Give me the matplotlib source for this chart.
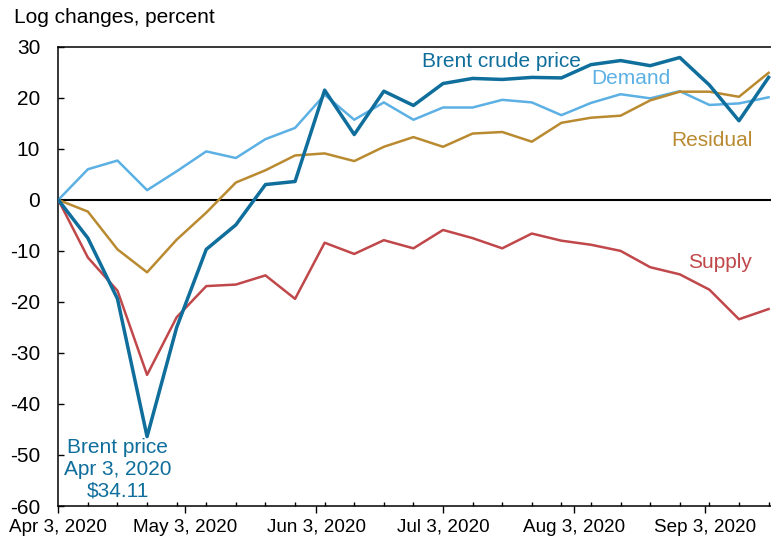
import pandas as pd
import matplotlib
matplotlib.use('Agg')
import matplotlib.pyplot as plt
import matplotlib.dates as mdates
from matplotlib.ticker import FuncFormatter, MultipleLocator

plt.rcParams['font.family'] = ['Liberation Sans', 'DejaVu Sans']
plt.rcParams['axes.unicode_minus'] = False

# Weekly observations, Apr 3 - Sep 18, 2020
dates = pd.date_range('2020-04-03', periods=25, freq='7D')

brent = [0, -7.5, -19.4, -46.4, -25.0, -9.7, -4.9, 3.0, 3.6, 21.5, 12.8, 21.3, 18.5,
         22.8, 23.8, 23.6, 24.0, 23.9, 26.5, 27.3, 26.3, 27.9, 22.5, 15.5, 24.0]
demand = [0, 6.0, 7.7, 1.9, 5.6, 9.5, 8.2, 11.9, 14.1, 20.6, 15.7, 19.1, 15.7,
          18.1, 18.1, 19.6, 19.1, 16.6, 19.0, 20.7, 19.9, 21.3, 18.6, 18.9, 20.1]
residual = [0, -2.3, -9.7, -14.2, -7.8, -2.5, 3.4, 5.8, 8.7, 9.1, 7.6, 10.4, 12.3,
            10.4, 13.0, 13.3, 11.4, 15.1, 16.1, 16.5, 19.5, 21.2, 21.2, 20.2, 24.9]
supply = [0, -11.3, -17.8, -34.3, -23.0, -16.9, -16.6, -14.8, -19.4, -8.4, -10.6, -7.9, -9.5,
          -5.9, -7.5, -9.5, -6.6, -8.0, -8.8, -10.0, -13.2, -14.6, -17.6, -23.4, -21.4]

c_brent = '#0f6e9b'
c_demand = '#5cb0e4'
c_resid = '#b98a30'
c_supply = '#c0474a'

fig = plt.figure(figsize=(7.71, 5.39), dpi=100)
ax = fig.add_axes([0.0756, 0.0612, 0.924, 0.852])

ax.axhline(0, color='black', lw=1.5, zorder=1)
ax.plot(dates, demand, color=c_demand, lw=1.8, zorder=2)
ax.plot(dates, residual, color=c_resid, lw=1.8, zorder=3)
ax.plot(dates, supply, color=c_supply, lw=1.8, zorder=4)
ax.plot(dates, brent, color=c_brent, lw=2.5, zorder=5)

ax.set_ylim(-60, 30)
ax.set_xlim(pd.Timestamp('2020-04-03'), pd.Timestamp('2020-09-18 12:00'))
ax.yaxis.set_major_locator(MultipleLocator(10))

ax.xaxis.set_major_locator(mdates.DayLocator(bymonthday=3))
ax.xaxis.set_major_formatter(FuncFormatter(
    lambda v, pos: (lambda d: f"{d.strftime('%b')} {d.day}, {d.year}")(mdates.num2date(v))))
ax.xaxis.set_minor_locator(mdates.WeekdayLocator(byweekday=mdates.FR))

ax.tick_params(axis='x', which='major', direction='out', length=5, width=1,
               labelsize=13.6, pad=4)
ax.tick_params(axis='x', which='minor', direction='in', length=3, width=1)
ax.tick_params(axis='y', direction='in', length=4, width=1, labelsize=15, pad=13)

for s in ['left', 'bottom', 'top']:
    ax.spines[s].set_linewidth(1.1)
ax.spines['right'].set_visible(False)

fig.text(0.018, 0.967, 'Log changes, percent', fontsize=15, ha='left', va='center')

ax.text(pd.Timestamp('2020-06-28'), 27.2, 'Brent crude price', color=c_brent,
        fontsize=15, ha='left', va='center')
ax.text(pd.Timestamp('2020-08-07'), 23.7, 'Demand', color=c_demand,
        fontsize=15, ha='left', va='center')
ax.text(pd.Timestamp('2020-08-26'), 11.7, 'Residual', color=c_resid,
        fontsize=15, ha='left', va='center')
ax.text(pd.Timestamp('2020-08-30'), -12.2, 'Supply', color=c_supply,
        fontsize=15, ha='left', va='center')
ax.text(pd.Timestamp('2020-04-17'), -52.8, 'Brent price\nApr 3, 2020\n$34.11',
        color=c_brent, fontsize=15, ha='center', va='center', linespacing=1.2)

fig.savefig('out.png', dpi=100)
